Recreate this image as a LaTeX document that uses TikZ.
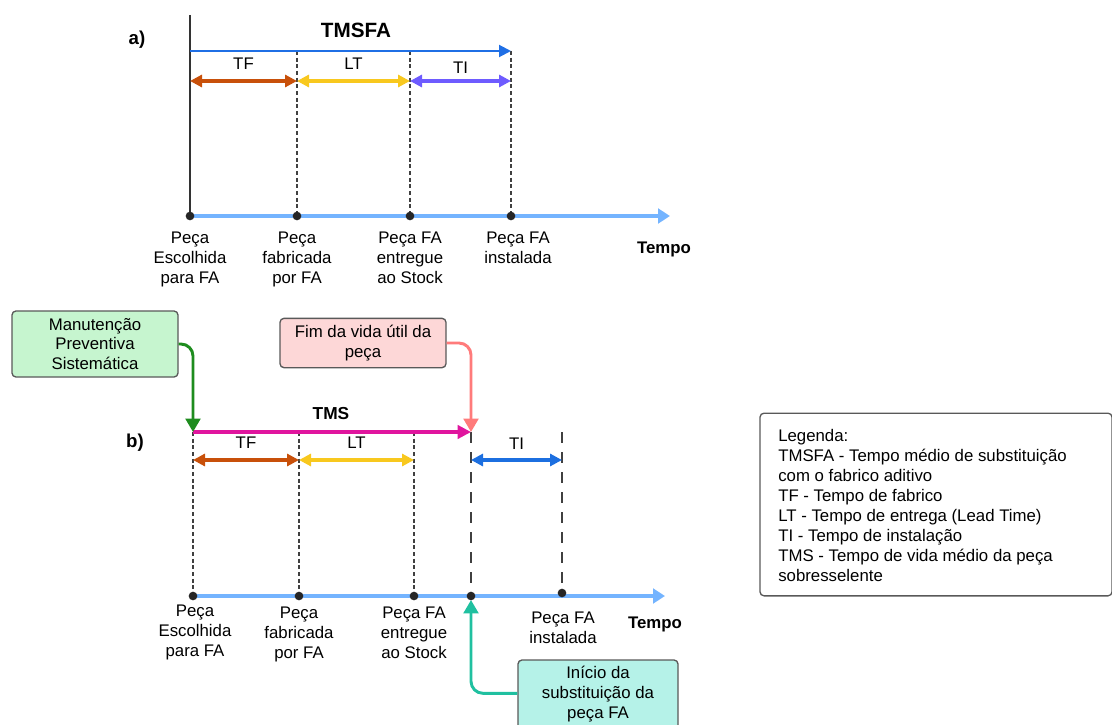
\documentclass[tikz,border=0pt]{standalone}
\usepackage{fontspec}
\setmainfont{Liberation Sans}
\usetikzlibrary{positioning,arrows.meta}
\definecolor{tline}{HTML}{74B4FF}
\definecolor{tfcol}{HTML}{C8500A}
\definecolor{ltcol}{HTML}{F8C81E}
\definecolor{ticol}{HTML}{6E5BFF}
\definecolor{tibcol}{HTML}{1C6FE0}
\definecolor{tmsfacol}{HTML}{1F6FE5}
\definecolor{tmscol}{HTML}{E0159E}
\definecolor{mpcol}{HTML}{1E8C1E}
\definecolor{fimcol}{HTML}{FF7B7B}
\definecolor{inicol}{HTML}{20C0A0}
\definecolor{mpfill}{HTML}{C6F5CF}
\definecolor{fimfill}{HTML}{FDD7D7}
\definecolor{inifill}{HTML}{B5F2E8}

\begin{document}
\begin{tikzpicture}[x=0.75pt,y=-0.75pt,
	font=\fontsize{12.6}{14.8}\selectfont,
	>={Triangle[length=9pt,width=9pt]},
	pt/.style={circle,fill=black!85,inner sep=0pt,minimum size=6.5pt},
	axis/.style={-{Triangle[length=9pt,width=11pt]},draw=tline,line width=3pt},
	span/.style={<->,line width=2.5pt},
	guide/.style={draw=black!75,line width=0.9pt,dash pattern=on 3pt off 2pt},
	guideb/.style={draw=black!75,line width=1.1pt,dash pattern=on 8pt off 7pt},
	lbl/.style={align=center,anchor=north,inner sep=0pt},
	box/.style={draw=black!65,line width=1pt,rounded corners=3pt,align=center},
	link/.style={-{Triangle[length=10pt,width=11pt]},line width=2.2pt,rounded corners=9pt},
	head/.style={font=\fontsize{14}{15}\selectfont\bfseries},
	tmp/.style={font=\fontsize{12.6}{15}\selectfont\bfseries}]

	\useasboundingbox (0,0) rectangle (1112,724);
	\clip (0,0) rectangle (1112,724);

	% a)
	\node[head] (la) at (137,40) {a)};
	\node[head,font=\fontsize{15.5}{17}\selectfont\bfseries] (tmsfa) at (356,30) {TMSFA};
	\coordinate (a0) at (190,216);
	\coordinate (a1) at (297,216);
	\coordinate (a2) at (410,216);
	\coordinate (a3) at (511,216);
	\coordinate (aend) at (670,216);
	\coordinate (atop) at (190,15);
	\coordinate (u0) at (190,51);
	\coordinate (u3) at (511,51);

	\draw[black!80,line width=1.5pt] (atop) -- (a0);
	\draw[guide] (297,51) -- (a1);
	\draw[guide] (410,51) -- (a2);
	\draw[guide] (u3) -- (a3);
	\draw[-{Triangle[length=9pt,width=9pt]},draw=tmsfacol,line width=1.5pt] (u0) -- (u3);

	\draw[span,tfcol] (190,81) -- node[above=4pt,black] (tfa) {TF} (297,81);
	\draw[span,ltcol] (297,81) -- node[above=4pt,black] (lta) {LT} (410,81);
	\draw[span,ticol] (410,81) -- node[above=1pt,black] (tia) {TI} (511,81);

	\draw[axis] (a0) -- (aend);
	\foreach \p in {a0,a1,a2,a3} \node[pt] at (\p) {};

	\node[lbl] (pa0) at (190,232) {Peça\\Escolhida\\para FA};
	\node[lbl] (pa1) at (297,232) {Peça\\fabricada\\por FA};
	\node[lbl] (pa2) at (410,232) {Peça FA\\entregue\\ao Stock};
	\node[lbl] (pa3) at (518,232) {Peça FA\\instalada};
	\node[tmp] (tempa) at (664,249) {Tempo};

	% b)
	\node[head] (lb) at (135,443) {b)};
	\node[head,font=\fontsize{13}{15}\selectfont\bfseries] (tms) at (331,414) {TMS};
	\coordinate (b0) at (193,596);
	\coordinate (b1) at (299,596);
	\coordinate (b2) at (414,596);
	\coordinate (b3) at (471,596);
	\coordinate (b4) at (562,593);
	\coordinate (bend) at (665,596);
	\coordinate (t0) at (193,432);
	\coordinate (t3) at (471,432);

	\draw[guide] (t0) -- (b0);
	\draw[guide] (299,432) -- (b1);
	\draw[guide] (414,432) -- (b2);
	\draw[guideb] (t3) -- (b3);
	\draw[guideb] (562,432) -- (b4);

	\draw[-{Triangle[length=10pt,width=10pt]},draw=tmscol,line width=2.3pt] (t0) -- (t3);

	\draw[span,tfcol] (193,460) -- node[above=4pt,black] (tfb) {TF} (299,460);
	\draw[span,ltcol] (299,460) -- node[above=4pt,black] (ltb) {LT} (414,460);
	\draw[span,tibcol] (471,460) -- node[above=3pt,black] (tib) {TI} (562,460);

	\draw[axis] (b0) -- (bend);
	\foreach \p in {b0,b1,b2,b3,b4} \node[pt] at (\p) {};

	\node[lbl] (pb0) at (195,605) {Peça\\Escolhida\\para FA};
	\node[lbl] (pb1) at (299,607) {Peça\\fabricada\\por FA};
	\node[lbl] (pb2) at (414,607) {Peça FA\\entregue\\ao Stock};
	\node[lbl] (pb3) at (563,612) {Peça FA\\instalada};
	\node[tmp] (tempb) at (655,624) {Tempo};

	\node[box,fill=mpfill,minimum width=124.5pt,minimum height=49.5pt] (mps) at (95,344) {Manutenção\\Preventiva\\Sistemática};
	\node[box,fill=fimfill,minimum width=124.5pt,minimum height=37pt] (fim) at (363,343) {Fim da vida útil da\\peça};
	\node[box,fill=inifill,minimum width=120pt,minimum height=60pt] (ini) at (598,700) {};
	\node[align=center,anchor=south,inner sep=0pt] (initxt) at (598,722) {Início da\\substituição da\\peça FA};

	\draw[link,mpcol] (mps.east) -| (t0);
	\draw[link,fimcol] (fim.east) -| (t3);
	\draw[link,inicol,shorten >=3pt] ([yshift=5pt]ini.west) -| (b3);

	% legenda
	\node[draw=black!65,line width=1pt,rounded corners=3pt,minimum width=264pt,minimum height=137pt] (leg) at (936,504.5) {};
	\node[align=left,anchor=north west,inner sep=0pt,font=\fontsize{12.6}{15}\selectfont] (legtxt) at (778,429) {Legenda:\\TMSFA - Tempo médio de substituição\\com o fabrico aditivo\\TF - Tempo de fabrico\\LT - Tempo de entrega (Lead Time)\\TI - Tempo de instalação\\TMS - Tempo de vida médio da peça\\sobresselente};
\end{tikzpicture}
\end{document}
